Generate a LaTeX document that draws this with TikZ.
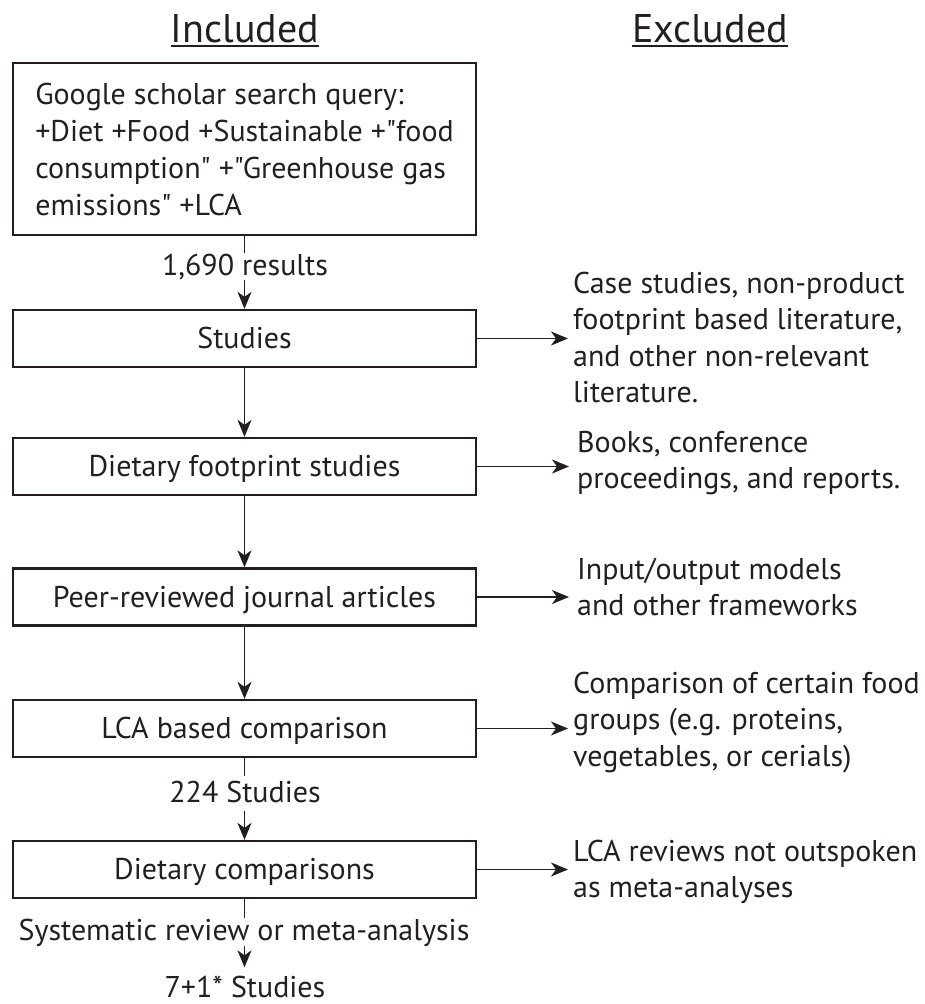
\documentclass[tikz,border=0pt]{standalone}
\usepackage{fontspec}
\setmainfont{PT Sans}[Ligatures=TeXOff]
\usetikzlibrary{arrows.meta}
\definecolor{ink}{RGB}{35,31,32}
\begin{document}
\begin{tikzpicture}[x=1pt,y=-1pt,color=ink,
  box/.style={draw, line width=2.3pt, minimum width=463pt, minimum height=57pt, inner sep=0pt,
    text height=20pt, text depth=0pt, font=\fontsize{30}{36.5}\selectfont},
  qbox/.style={draw, line width=2.3pt, minimum width=463pt, minimum height=172pt, inner sep=0pt,
    align=left, font=\fontsize{30}{37}\selectfont},
  arr/.style={line width=1.8pt, -{Stealth[length=17pt,width=14pt,inset=5pt]}},
  ln/.style={line width=1.8pt},
  lbl/.style={inner sep=0pt, anchor=base, font=\fontsize{30}{36.5}\selectfont},
  exc/.style={inner sep=0pt, anchor=base west, font=\fontsize{30}{36.5}\selectfont},
  head/.style={inner sep=0pt, anchor=base, font=\fontsize{40}{46}\selectfont}]
\useasboundingbox (0,0) rectangle (924,1004);

% headings
\node[head] (inc) at (245,42) {Included};
\node[head] (exl) at (710,42) {Excluded};
\draw[line width=2pt] ([yshift=-4pt]inc.base west) -- ([yshift=-4pt]inc.base east);
\draw[line width=2pt] ([yshift=-4pt]exl.base west) -- ([yshift=-4pt]exl.base east);

% included column
\node[qbox] (q) at (244.5,149) {Google scholar search query:\\+Diet +Food +Sustainable +"food\\consumption" +"Greenhouse gas\\emissions" +LCA};
\node[box] (s) at (244.5,338.5) {Studies};
\node[box] (d) at (244.5,466.5) {Dietary footprint studies};
\node[box] (p) at (244.5,597) {Peer-reviewed journal articles};
\node[box] (l) at (244.5,728.5) {LCA based comparison};
\node[box] (c) at (244.5,869.5) {Dietary comparisons};

\node[lbl] (r1) at (245,275) {1,690 results};
\node[lbl] (r2) at (245,802) {224 Studies};
\node[lbl] (r3) at (244,940) {Systematic review or meta-analysis};
\node[lbl] (r4) at (245,997) {7+1* Studies};

\draw[ln] (q.south) -- (q.south |- r1.north);
\draw[arr] (r1.south -| s.north) -- (s.north);
\draw[arr] (s) -- (d);
\draw[arr] (d) -- (p);
\draw[arr] (p) -- (l);
\draw[ln, shorten >=4pt] (l.south) -- (l.south |- r2.north);
\draw[arr, shorten <=8pt] (r2.south -| c.north) -- (c.north);
\draw[ln] (c.south) -- (c.south |- r3.north);
\draw[arr, shorten >=8pt] (c.south |- r3.south) -- (c.south |- r4.north);

% excluded column
\node[exc] (e1) at (573,293) {\begin{tabular}[t]{@{}l@{}}Case studies, non-product\\footprint based literature,\\and other non-relevant\\literature.\end{tabular}};
\node[exc] (e2) at (577,452) {\begin{tabular}[t]{@{}l@{}}Books, conference\\proceedings, and reports.\end{tabular}};
\node[exc] (e3) at (577,579) {\begin{tabular}[t]{@{}l@{}}Input/output models\\and other frameworks\end{tabular}};
\node[exc] (e4) at (573,693) {\begin{tabular}[t]{@{}l@{}}Comparison of certain food\\groups (e.g. proteins,\\vegetables, or cerials)\end{tabular}};
\node[exc] (e5) at (573,861) {\begin{tabular}[t]{@{}l@{}}LCA reviews not outspoken\\as meta-analyses\end{tabular}};

\draw[arr, shorten >=5pt] (s.east) -- (s.east -| e1.west);
\draw[arr, shorten >=8pt] (d.east) -- (d.east -| e2.west);
\draw[arr, shorten >=8pt] (p.east) -- (p.east -| e3.west);
\draw[arr, shorten >=5pt] (l.east) -- (l.east -| e4.west);
\draw[arr, shorten >=5pt] (c.east) -- (c.east -| e5.west);
\end{tikzpicture}
\end{document}
